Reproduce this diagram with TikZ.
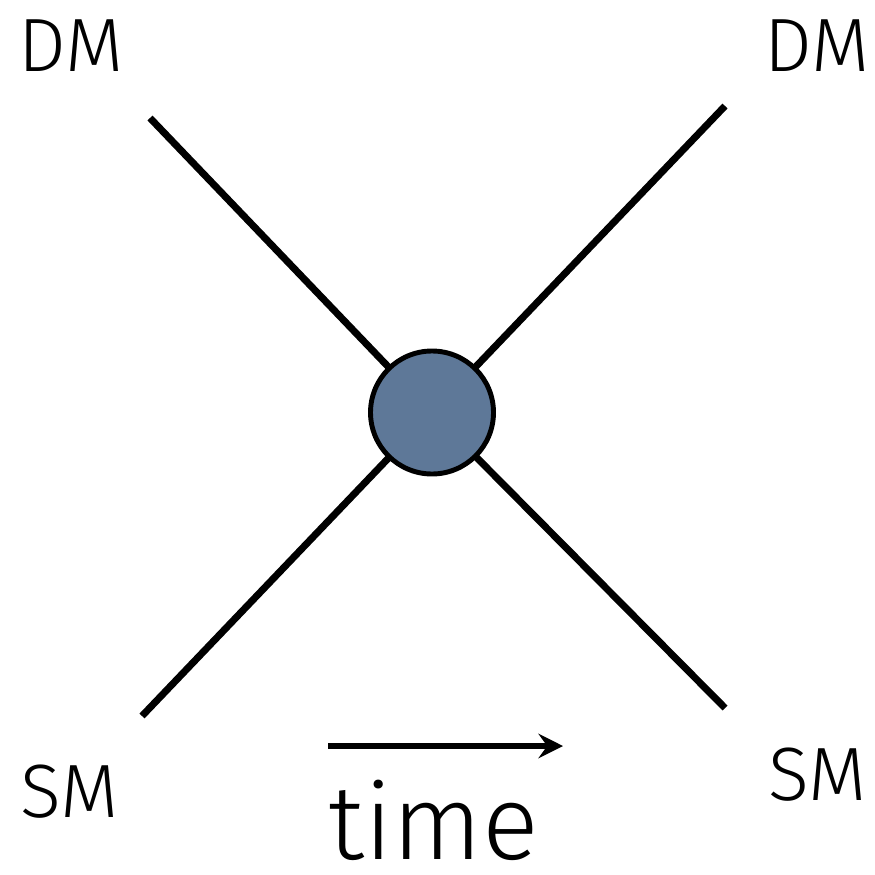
\documentclass[tikz,border=0pt]{standalone}
\usepackage{fontspec}
\setmainfont{Fira Sans Light}
\usetikzlibrary{arrows.meta, positioning, calc}
\definecolor{vertexblue}{RGB}{94,120,152}

\begin{document}
\begin{tikzpicture}[
    >={Stealth[length=7pt, width=7pt, inset=2.5pt]},
    leg/.style={line width=2pt, black},
    vertex/.style={circle, draw=black, fill=vertexblue, line width=1.4pt, minimum size=1.23cm, inner sep=0pt},
    particle/.style={font=\fontsize{21.5}{24}\selectfont, anchor=base, inner sep=0pt},
    timelabel/.style={font=\fontsize{30}{36}\selectfont, anchor=base, inner sep=0pt},
    arrow/.style={->, line width=1.6pt, black}
  ]
    \useasboundingbox (0,0) rectangle (8.75,8.74);
    % endpoints of the four legs
    \coordinate (tl) at (1.50,7.56);
    \coordinate (tr) at (7.25,7.68);
    \coordinate (bl) at (1.42,1.58);
    \coordinate (br) at (7.25,1.66);
    \draw[leg] (tl) -- (4.32,4.615);
    \draw[leg] (tr) -- (4.32,4.615);
    \draw[leg] (bl) -- (4.32,4.615);
    \draw[leg] (br) -- (4.32,4.615);
    \node[vertex] (hub) at (4.32,4.615) {};
    % labels
    \node[particle] (dmin) at (0.71,8.02) {DM};
    \node[particle] (dmout) at (8.17,8.02) {DM};
    \node[particle] (smin) at (0.70,0.57) {SM};
    \node[particle] (smout) at (8.18,0.74) {SM};
    % time axis
    \coordinate (t0) at (3.28,1.28);
    \coordinate (t1) at (5.63,1.28);
    \draw[arrow] (t0) -- (t1);
    \node[timelabel] (time) at (4.34,0.15) {time};
\end{tikzpicture}
\end{document}
